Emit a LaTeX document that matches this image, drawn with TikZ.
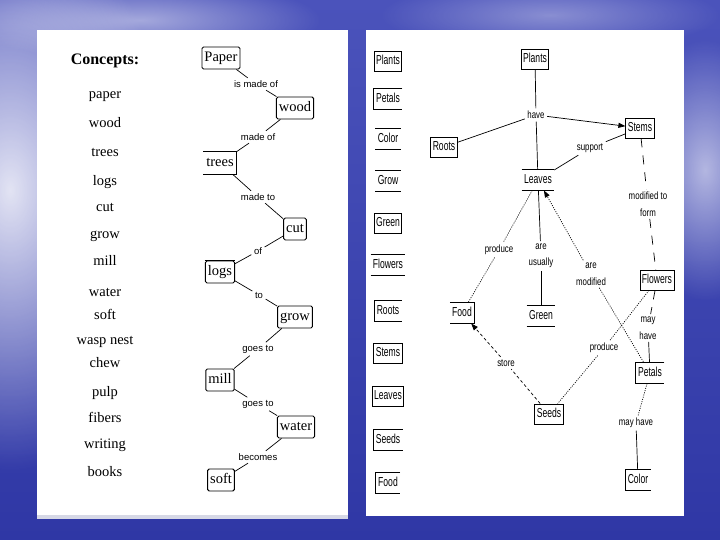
\documentclass[tikz,border=0pt]{standalone}
\usepackage{fontspec}
\setmainfont{Liberation Serif}
\newfontfamily\linkfont{Liberation Sans}
\newfontfamily\mapfont[FakeStretch=0.66]{Liberation Sans}
\newfontfamily\mapsmall[FakeStretch=0.75]{Liberation Sans}
\usetikzlibrary{arrows.meta,fadings}
\tikzfading[name=haze,inner color=transparent!0,outer color=transparent!100]
\definecolor{bgtop}{HTML}{4B53BB}
\definecolor{bgbot}{HTML}{2F37A5}
\definecolor{panelrim}{HTML}{D6D8E6}

\begin{document}
\begin{tikzpicture}[x=1pt,y=-1pt,
  word/.style={font=\fontsize{14.5}{14}\selectfont,inner sep=0pt,text height=10pt,text depth=3pt},
  cbox/.style={draw,line width=.9pt,rounded corners=1.5pt,font=\fontsize{14.5}{14}\selectfont,inner xsep=2.5pt,inner ysep=0pt,text height=10pt,text depth=3pt,minimum height=22pt},
  clink/.style={font=\linkfont\fontsize{9.5}{10}\selectfont,inner sep=2.5pt},
  pbox/.style={draw,line width=.9pt,font=\mapfont\fontsize{13}{13}\selectfont,inner xsep=2pt,inner ysep=0pt,text height=9.5pt,text depth=2pt,minimum height=20pt},
  plink/.style={font=\mapsmall\fontsize{10.5}{16.5}\selectfont,inner sep=2.5pt,align=center},
  tie/.style={line width=.7pt},
  arrowto/.style={-{Triangle[length=7pt,width=5pt]}},
  longdash/.style={dash pattern=on 9pt off 8pt},
  finedot/.style={dash pattern=on 1pt off 1.3pt},
  shortdash/.style={dash pattern=on 3pt off 2.5pt}]
\useasboundingbox (0,0) rectangle (720,540);
\shade[top color=bgtop,bottom color=bgbot] (0,0) rectangle (720,540);
\fill[white,opacity=.85,path fading=haze] (-150,-90) rectangle (170,470);
\fill[white,opacity=.5,path fading=haze] (-40,-20) rectangle (320,60);
\fill[white,opacity=.6,path fading=haze] (630,40) rectangle (780,300);
\fill[white,opacity=.35,path fading=haze] (380,-20) rectangle (720,50);
\fill[white] (37,30) rectangle (348,515);
\fill[panelrim] (37,515) rectangle (348,519);
\fill[white] (366,30) rectangle (684,516);
\node[font=\bfseries\fontsize{16}{16}\selectfont] (head) at (105,61) {Concepts:};
\node[word] (wpaper) at (105,95) {paper};
\node[word] (wwood) at (105,124) {wood};
\node[word] (wtrees) at (105,153) {trees};
\node[word] (wlogs) at (105,182) {logs};
\node[word] (wcut) at (105,208) {cut};
\node[word] (wgrow) at (105,235) {grow};
\node[word] (wmill) at (105,262) {mill};
\node[word] (wwater) at (105,293) {water};
\node[word] (wsoft) at (105,316) {soft};
\node[word] (wwasp) at (105,341) {wasp nest};
\node[word] (wchew) at (105,364) {chew};
\node[word] (wpulp) at (105,393) {pulp};
\node[word] (wfibers) at (105,419) {fibers};
\node[word] (wwriting) at (105,445) {writing};
\node[word] (wbooks) at (105,473) {books};
\node[cbox] (paper) at (221,58) {Paper};
\node[cbox] (wood) at (295,108) {wood};
\node[cbox,draw=none] (trees) at (220,163) {trees};
\draw[line width=.9pt] (trees.north west) -- (trees.north east) -- (trees.south east) -- (trees.south west);
\node[cbox] (cut) at (295,229) {cut};
\node[cbox] (logs) at (220,272) {logs};
\draw[line width=1.8pt] (logs.north west) -- (logs.north east);
\node[cbox] (grow) at (295,317) {grow};
\node[cbox] (mill) at (220,380) {mill};
\node[cbox] (water) at (296,427) {water};
\node[cbox] (soft) at (221,480) {soft};
\node[clink] (ismade) at (256,84) {is made of};
\node[clink] (madeof) at (258,137) {made of};
\node[clink] (madeto) at (258,197) {made to};
\node[clink] (of) at (258,251) {of};
\node[clink] (to) at (259,295) {to};
\node[clink] (goesa) at (258,349) {goes to};
\node[clink] (goesb) at (258,404) {goes to};
\node[clink] (becomes) at (258,457) {becomes};
\draw[tie] (paper) -- (ismade);
\draw[tie] (ismade) -- (wood);
\draw[tie] (wood) -- (madeof);
\draw[tie] (madeof) -- (trees);
\draw[tie] (trees) -- (madeto);
\draw[tie] (madeto) -- (cut);
\draw[tie] (cut) -- (of);
\draw[tie] (of) -- (logs);
\draw[tie] (logs) -- (to);
\draw[tie] (to) -- (grow);
\draw[tie] (grow) -- (goesa);
\draw[tie] (goesa) -- (mill);
\draw[tie] (mill) -- (goesb);
\draw[tie] (goesb) -- (water);
\draw[tie] (water) -- (becomes);
\draw[tie] (becomes) -- (soft);
\node[pbox] (lplants) at (388,61) {Plants};
\node[pbox,draw=none] (lpetals) at (388,99) {Petals};
\draw[line width=.9pt] (lpetals.north east) -- (lpetals.north west) -- (lpetals.south west) -- (lpetals.south east);
\node[pbox,draw=none] (lcolor) at (388,139) {Color};
\draw[line width=.9pt] (lcolor.north west) -- (lcolor.north east) (lcolor.south west) -- (lcolor.south east);
\node[pbox,draw=none] (lgrow) at (388,181) {Grow};
\draw[line width=.9pt] (lgrow.north west) -- (lgrow.north east) (lgrow.south west) -- (lgrow.south east);
\node[pbox] (lgreen) at (388,223) {Green};
\node[pbox,draw=none] (lflowers) at (388,265) {Flowers};
\draw[line width=.9pt] (lflowers.north west) -- (lflowers.north east) (lflowers.south west) -- (lflowers.south east);
\node[pbox,draw=none] (lroots) at (388,311) {Roots};
\draw[line width=.9pt] (lroots.north east) -- (lroots.north west) -- (lroots.south west) -- (lroots.south east);
\node[pbox] (lstems) at (388,353) {Stems};
\node[pbox] (lleaves) at (388,396) {Leaves};
\node[pbox,draw=none] (lseeds) at (388,440) {Seeds};
\draw[line width=.9pt] (lseeds.north east) -- (lseeds.north west) -- (lseeds.south west) -- (lseeds.south east);
\node[pbox,draw=none] (lfood) at (388,483) {Food};
\draw[line width=.9pt] (lfood.north east) -- (lfood.north west) -- (lfood.south west) -- (lfood.south east);
\node[pbox] (plants) at (535,59) {Plants};
\node[pbox] (roots) at (444,147) {Roots};
\node[pbox] (stems) at (640,128) {Stems};
\node[pbox,draw=none] (leaves) at (538,180) {Leaves};
\draw[line width=.9pt] (leaves.north west) -- (leaves.north east) (leaves.south west) -- (leaves.south east);
\node[pbox,draw=none] (food) at (462,313) {Food};
\draw[line width=.9pt] (food.north west) -- (food.north east) -- (food.south east) -- (food.south west);
\node[pbox,draw=none] (green) at (541,316) {Green};
\draw[line width=.9pt] (green.north west) -- (green.north east) (green.south west) -- (green.south east);
\node[pbox] (flowers) at (657,280) {Flowers};
\node[pbox,draw=none] (petals) at (650,373) {Petals};
\draw[line width=.9pt] (petals.north east) -- (petals.north west) -- (petals.south west) -- (petals.south east);
\node[pbox] (seeds) at (549,414) {Seeds};
\node[pbox,draw=none] (color) at (638,480) {Color};
\draw[line width=.9pt] (color.north east) -- (color.north west) -- (color.south west) -- (color.south east);
\node[plink] (have) at (536,115) {have};
\node[plink] (support) at (590,148) {support};
\node[plink] (modified) at (648,204) {modified to\\form};
\node[plink] (produceup) at (499,250) {produce};
\node[plink] (usually) at (541,256) {are\\usually};
\node[plink] (aremod) at (591,274) {are\\modified};
\node[plink] (store) at (506,363) {store};
\node[plink] (producelow) at (604,348) {produce};
\node[plink] (mayhave) at (648,328) {may\\have};
\node[plink] (mayhavelow) at (636,423) {may have};
\draw[tie] (plants) -- (have);
\draw[tie] (have) -- (roots);
\draw[tie,arrowto] (have) -- (stems);
\draw[tie] (leaves) -- (have);
\draw[tie] (stems) -- (support);
\draw[tie] (support) -- (leaves);
\draw[tie,longdash] (stems) -- (modified);
\draw[tie,longdash] (modified) -- (flowers);
\draw[tie,finedot] (leaves) -- (produceup);
\draw[tie,finedot] (produceup) -- (food);
\draw[tie] (leaves) -- (usually);
\draw[tie] (usually) -- (green);
\draw[tie,finedot,arrowto] (aremod) -- (leaves);
\draw[tie,finedot] (aremod) -- (petals);
\draw[tie,shortdash] (seeds) -- (store);
\draw[tie,shortdash,arrowto] (store) -- (food);
\draw[tie,finedot] (flowers) -- (producelow);
\draw[tie,finedot] (producelow) -- (seeds);
\draw[tie,longdash] (flowers) -- (mayhave);
\draw[tie] (mayhave) -- (petals);
\draw[tie,finedot] (petals) -- (mayhavelow);
\draw[tie] (mayhavelow) -- (color);
\end{tikzpicture}
\end{document}
